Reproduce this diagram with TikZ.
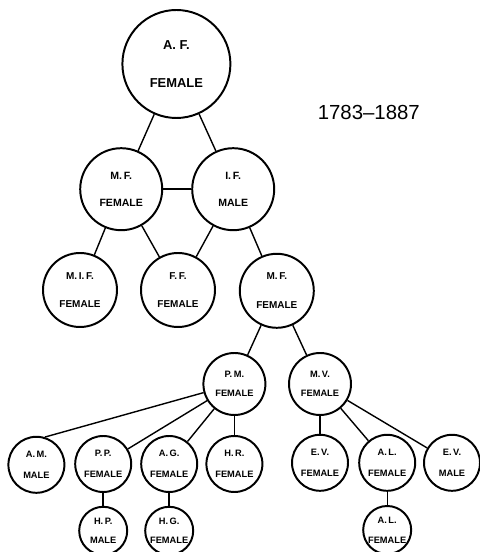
\documentclass[tikz,border=0pt]{standalone}
\usepackage{fontspec}
\setmainfont{Liberation Sans}
\usepackage{tikz}
\tikzset{
  person/.style={circle, draw, line width=1.4pt, inner sep=0pt, align=center},
  gen1/.style={person, minimum size=2.7cm, font=\fontsize{9.2}{27.5}\selectfont\bfseries},
  gen2/.style={person, minimum size=2.05cm, font=\fontsize{7.5}{19}\selectfont\bfseries},
  gen3/.style={person, minimum size=1.85cm, font=\fontsize{7.1}{20.5}\selectfont\bfseries},
  gen4/.style={person, minimum size=1.55cm, font=\fontsize{6.6}{13.5}\selectfont\bfseries},
  gen5/.style={person, minimum size=1.4cm, font=\fontsize{6.6}{15}\selectfont\bfseries},
  gen6/.style={person, minimum size=1.2cm, font=\fontsize{6.6}{14}\selectfont\bfseries},
  link/.style={line width=1pt},
}

\begin{document}
\begin{tikzpicture}
      \useasboundingbox (0,0) rectangle (11.975,13.8);
      \node[gen1] (af) at (4.41,12.2) {A. F.\\FEMALE};
      \node[gen2] (mf) at (3.03,9.07) {M.\,F.\\FEMALE};
      \node[gen2] (if) at (5.83,9.07) {I.\,F.\\MALE};
      \node[gen3] (mif) at (2.0,6.55) {M.\,I.\,F.\\FEMALE};
      \node[gen3] (ff) at (4.45,6.55) {F.\,F.\\FEMALE};
      \node[gen3] (mfb) at (6.92,6.53) {M.\,F.\\FEMALE};
      \node[gen4] (pm) at (5.86,4.2) {P.\,M.\\FEMALE};
      \node[gen4] (mv) at (8.0,4.2) {M.\,V.\\FEMALE};
      \node[gen5] (am) at (0.91,2.18) {A.\,M.\\MALE};
      \node[gen5] (pp) at (2.58,2.2) {P.\,P.\\FEMALE};
      \node[gen5] (ag) at (4.23,2.2) {A.\,G.\\FEMALE};
      \node[gen5] (hr) at (5.86,2.2) {H.\,R.\\FEMALE};
      \node[gen5] (ev) at (8.0,2.23) {E.\,V.\\FEMALE};
      \node[gen5] (al) at (9.68,2.23) {A.\,L.\\FEMALE};
      \node[gen5] (evm) at (11.3,2.23) {E.\,V.\\MALE};
      \node[gen6] (hp) at (2.58,0.53) {H.\,P.\\MALE};
      \node[gen6] (hg) at (4.23,0.53) {H.\,G.\\FEMALE};
      \node[gen6] (alb) at (9.68,0.55) {A.\,L.\\FEMALE};
      \node[font=\fontsize{14.5}{16}\selectfont] (years) at (9.22,11.0) {1783--1887};
      \draw[link] (af) -- (mf);
      \draw[link] (af) -- (if);
      \draw[link] (mf) -- (if);
      \draw[link] (mf) -- (mif);
      \draw[link] (mf) -- (ff);
      \draw[link] (if) -- (ff);
      \draw[link] (if) -- (mfb);
      \draw[link] (mfb) -- (pm);
      \draw[link] (mfb) -- (mv);
      \draw[link] (pm) -- (am.73);
      \draw[link] (pm) -- (pp);
      \draw[link] (pm) -- (ag);
      \draw[link] (pm) -- (hr);
      \draw[link] (mv) -- (ev);
      \draw[link] (mv) -- (al);
      \draw[link] (mv) -- (evm);
      \draw[link] (pp) -- (hp);
      \draw[link] (ag) -- (hg);
      \draw[link] (al) -- (alb);
    \end{tikzpicture}
\end{document}
